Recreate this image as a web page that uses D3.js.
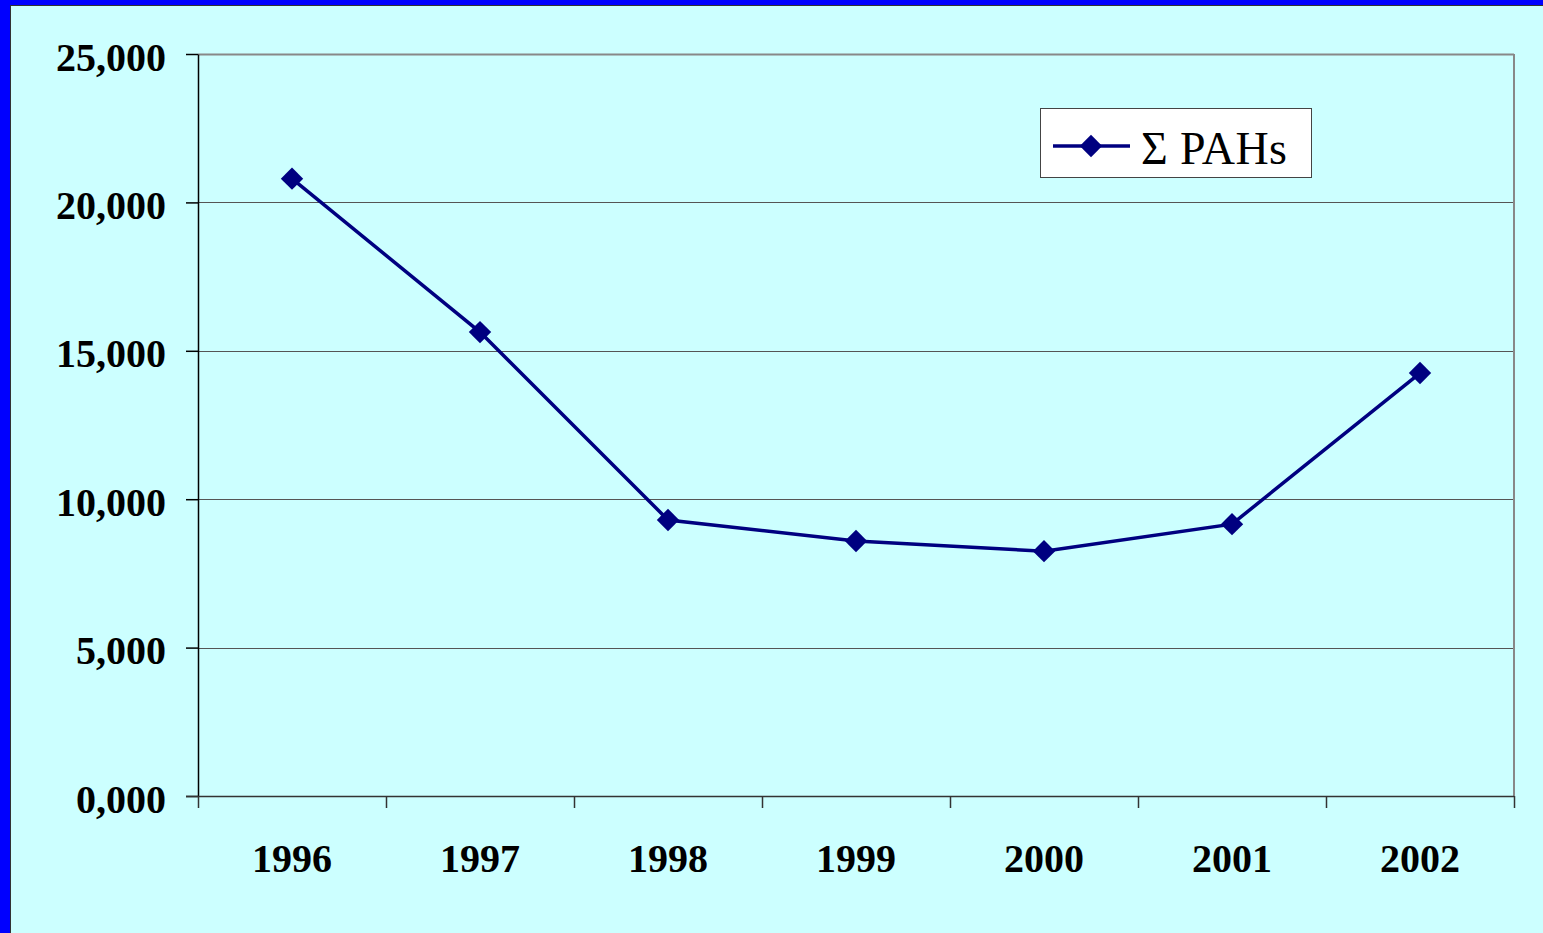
<!DOCTYPE html>
<html>
<head>
<meta charset="utf-8">
<script src="https://cdn.jsdelivr.net/npm/d3@7"></script>
<style>
  body { margin: 0; background: #ccffff; }
  svg { display: block; }
</style>
</head>
<body>
<svg id="chart"></svg>
<script>
// Chart data
const years = ["1996", "1997", "1998", "1999", "2000", "2001", "2002"];
const pahValues = [20800, 15630, 9300, 8590, 8250, 9160, 14250];
const yTicks = [0, 5000, 10000, 15000, 20000, 25000];
const seriesName = "\u03A3 PAHs";

const width = 1543;
const height = 933;
const margin = { top: 54, right: 29, bottom: 137, left: 198 };
const innerW = width - margin.left - margin.right;
const innerH = height - margin.top - margin.bottom;
const serif = "'Liberation Serif', 'Times New Roman', serif";

const svg = d3.select("#chart").attr("width", width).attr("height", height);

// Background and blue frame
svg.append("rect").attr("width", width).attr("height", height).attr("fill", "#ccffff");
svg.append("rect").attr("x", 0).attr("y", 0).attr("width", 10).attr("height", height).attr("fill", "#0000ff");
svg.append("rect").attr("x", 0).attr("y", 0).attr("width", width).attr("height", 5).attr("fill", "#0000ff");
svg.append("line").attr("x1", 10.5).attr("x2", 10.5).attr("y1", 5).attr("y2", height)
  .attr("stroke", "#333").attr("stroke-width", 1);
svg.append("line").attr("x1", 10).attr("x2", width).attr("y1", 5.5).attr("y2", 5.5)
  .attr("stroke", "#333").attr("stroke-width", 1);

const chart = svg.append("g").attr("transform", `translate(${margin.left},${margin.top})`);

// Scales
const xScale = d3.scaleBand().domain(years).range([0, innerW]);
const yScale = d3.scaleLinear().domain([0, 25000]).range([innerH, 0]);

// Gridlines
chart.selectAll(".grid")
  .data(yTicks.filter(d => d > 0))
  .join("line")
  .attr("class", "grid")
  .attr("x1", 0).attr("x2", innerW)
  .attr("y1", d => Math.round(yScale(d)) + 0.5)
  .attr("y2", d => Math.round(yScale(d)) + 0.5)
  .attr("stroke", d => d === 25000 ? "#888" : "#555")
  .attr("stroke-width", d => d === 25000 ? 2 : 1);

// Right border of plot area
chart.append("line")
  .attr("x1", innerW).attr("x2", innerW).attr("y1", 0).attr("y2", innerH)
  .attr("stroke", "#888").attr("stroke-width", 2);

// Y axis
const fmt = d => d3.format(",")(d).replace(/^0$/, "0,000");
const yAxis = d3.axisLeft(yScale).tickValues(yTicks).tickSize(12).tickSizeOuter(0).tickPadding(20)
  .tickFormat(fmt);
const yAxisG = chart.append("g").call(yAxis);
yAxisG.select(".domain").attr("stroke", "#000").attr("stroke-width", 1.5);
yAxisG.selectAll(".tick line").attr("stroke", "#000").attr("stroke-width", 1.5);
yAxisG.selectAll("text")
  .attr("font-family", serif)
  .attr("font-weight", "bold")
  .attr("font-size", 40)
  .attr("fill", "#000")
  .attr("dy", "0.4em");

// X axis with ticks at band edges
const xAxisG = chart.append("g").attr("transform", `translate(0,${innerH})`);
xAxisG.append("line").attr("x1", -12).attr("x2", innerW).attr("y1", 0.5).attr("y2", 0.5)
  .attr("stroke", "#333").attr("stroke-width", 1.5);
const edges = years.map(y => xScale(y)).concat([innerW]);
xAxisG.selectAll(".xtick").data(edges).join("line")
  .attr("class", "xtick")
  .attr("x1", d => Math.round(d) + 0.5).attr("x2", d => Math.round(d) + 0.5)
  .attr("y1", 0).attr("y2", 12)
  .attr("stroke", "#333").attr("stroke-width", 1.5);
xAxisG.selectAll(".xlabel").data(years).join("text")
  .attr("class", "xlabel")
  .attr("x", d => xScale(d) + xScale.bandwidth() / 2)
  .attr("y", 76)
  .attr("text-anchor", "middle")
  .attr("font-family", serif)
  .attr("font-weight", "bold")
  .attr("font-size", 40)
  .attr("fill", "#000")
  .text(d => d);

// Line series
const pts = years.map((y, i) => ({ year: y, value: pahValues[i] }));
const line = d3.line()
  .x(d => xScale(d.year) + xScale.bandwidth() / 2)
  .y(d => yScale(d.value));
chart.append("path").datum(pts)
  .attr("d", line)
  .attr("fill", "none")
  .attr("stroke", "#000080")
  .attr("stroke-width", 3.5);

const diamond = d3.symbol().type(d3.symbolDiamond2).size(320);
chart.selectAll(".marker").data(pts).join("path")
  .attr("class", "marker")
  .attr("d", diamond)
  .attr("transform", d => `translate(${xScale(d.year) + xScale.bandwidth() / 2},${yScale(d.value)})`)
  .attr("fill", "#000080");

// Legend
const legend = svg.append("g").attr("transform", "translate(1040,108)");
legend.append("rect").attr("x", 0.5).attr("y", 0.5).attr("width", 271).attr("height", 69)
  .attr("fill", "#fff").attr("stroke", "#444").attr("stroke-width", 1);
legend.append("line").attr("x1", 13).attr("x2", 90).attr("y1", 38).attr("y2", 38)
  .attr("stroke", "#000080").attr("stroke-width", 3.5);
legend.append("path").attr("d", diamond).attr("transform", "translate(51,38)").attr("fill", "#000080");
legend.append("text")
  .attr("x", 101).attr("y", 56)
  .attr("font-family", serif)
  .attr("font-size", 46)
  .attr("fill", "#000")
  .attr("textLength", 146)
  .text(seriesName);
</script>
</body>
</html>
